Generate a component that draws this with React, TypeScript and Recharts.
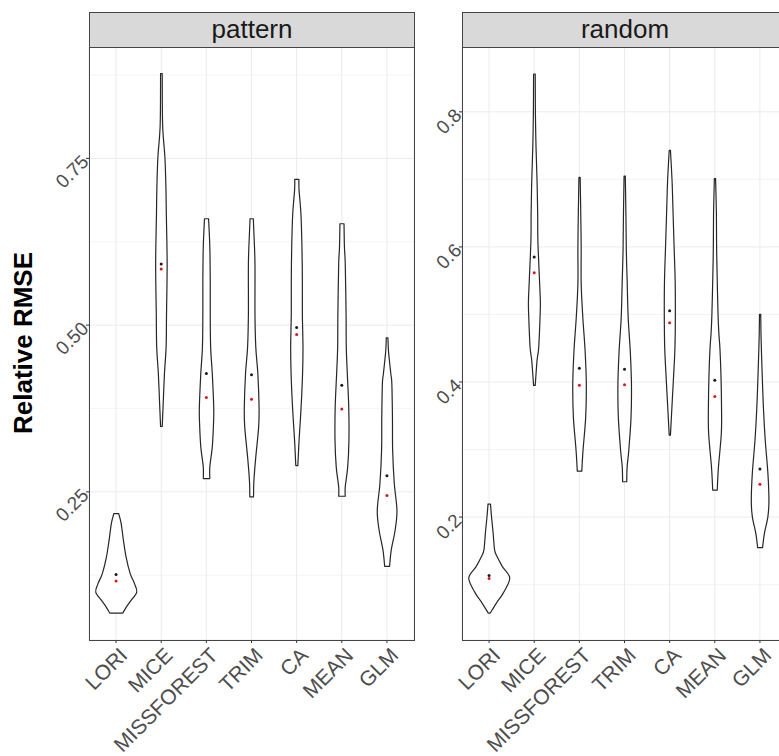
import React from 'react';
import { ComposedChart, Bar, Scatter, XAxis, YAxis, CartesianGrid } from 'recharts';

// ---------- data ----------
const categories = ['LORI', 'MICE', 'MISSFOREST', 'TRIM', 'CA', 'MEAN', 'GLM'];

// violin outlines: [value, relative density width] from top (max) to bottom (min)
const patternProfiles: number[][][] = [
  [[0.2174, 0.12], [0.2024, 0.24], [0.1774, 0.35], [0.1523, 0.48], [0.1274, 0.68], [0.1124, 0.89], [0.0998, 1.0], [0.0873, 0.72], [0.0773, 0.49], [0.0683, 0.32]],
  [[0.877, 0.04], [0.8, 0.06], [0.752, 0.17], [0.707, 0.22], [0.667, 0.24], [0.592, 0.28], [0.517, 0.25], [0.467, 0.23], [0.428, 0.15], [0.377, 0.08], [0.348, 0.04]],
  [[0.6595, 0.1], [0.617, 0.16], [0.567, 0.18], [0.517, 0.18], [0.467, 0.2], [0.4275, 0.28], [0.3774, 0.35], [0.3525, 0.34], [0.3174, 0.28], [0.2874, 0.16], [0.27, 0.16]],
  [[0.6595, 0.08], [0.637, 0.11], [0.592, 0.16], [0.517, 0.16], [0.467, 0.2], [0.4275, 0.3], [0.3774, 0.36], [0.3474, 0.34], [0.3024, 0.2], [0.2674, 0.11], [0.2424, 0.09]],
  [[0.7186, 0.1], [0.702, 0.11], [0.667, 0.2], [0.617, 0.25], [0.567, 0.27], [0.517, 0.27], [0.467, 0.3], [0.4275, 0.28], [0.3774, 0.21], [0.3274, 0.11], [0.2894, 0.05]],
  [[0.652, 0.1], [0.617, 0.12], [0.592, 0.16], [0.517, 0.2], [0.467, 0.21], [0.4275, 0.26], [0.3774, 0.33], [0.3274, 0.34], [0.2874, 0.28], [0.2574, 0.16], [0.2434, 0.16]],
  [[0.481, 0.04], [0.46, 0.07], [0.4275, 0.18], [0.4125, 0.23], [0.3625, 0.26], [0.3124, 0.27], [0.2625, 0.35], [0.2224, 0.48], [0.1924, 0.39], [0.1624, 0.2], [0.1384, 0.12]],
];
const patternMeans = [0.126, 0.5915, 0.4275, 0.4255, 0.4965, 0.41, 0.274];
const patternMedians = [0.1163, 0.584, 0.3915, 0.389, 0.486, 0.3744, 0.2444];

const randomProfiles: number[][][] = [
  [[0.2193, 0.06], [0.2005, 0.11], [0.176, 0.19], [0.1513, 0.26], [0.1415, 0.38], [0.1267, 0.64], [0.1096, 1.0], [0.0874, 0.68], [0.0727, 0.35], [0.0579, 0.05]],
  [[0.856, 0.04], [0.796, 0.05], [0.747, 0.08], [0.697, 0.13], [0.648, 0.16], [0.609, 0.17], [0.55, 0.25], [0.52, 0.29], [0.5, 0.28], [0.451, 0.21], [0.432, 0.13], [0.395, 0.04]],
  [[0.703, 0.03], [0.648, 0.06], [0.599, 0.08], [0.546, 0.08], [0.4955, 0.16], [0.447, 0.27], [0.398, 0.33], [0.348, 0.3], [0.299, 0.17], [0.268, 0.11]],
  [[0.705, 0.03], [0.648, 0.06], [0.594, 0.08], [0.55, 0.12], [0.4955, 0.17], [0.447, 0.27], [0.398, 0.33], [0.348, 0.31], [0.299, 0.2], [0.2744, 0.12], [0.2523, 0.1]],
  [[0.743, 0.03], [0.697, 0.11], [0.648, 0.16], [0.599, 0.21], [0.55, 0.26], [0.5, 0.27], [0.451, 0.25], [0.4124, 0.19], [0.373, 0.12], [0.3213, 0.03]],
  [[0.701, 0.03], [0.648, 0.07], [0.599, 0.08], [0.55, 0.11], [0.5, 0.15], [0.472, 0.19], [0.451, 0.24], [0.4124, 0.29], [0.363, 0.32], [0.324, 0.31], [0.274, 0.17], [0.24, 0.11]],
  [[0.5, 0.03], [0.4616, 0.05], [0.4124, 0.1], [0.363, 0.16], [0.314, 0.25], [0.2647, 0.38], [0.2253, 0.43], [0.2006, 0.38], [0.176, 0.21], [0.1548, 0.12]],
];
const randomMeans = [0.1135, 0.585, 0.4202, 0.4188, 0.5055, 0.4025, 0.271];
const randomMedians = [0.109, 0.5616, 0.3951, 0.396, 0.4877, 0.3784, 0.2485];

const patternTicks = [0.25, 0.5, 0.75];
const patternTickLabels = ['0.25', '0.50', '0.75'];
const patternMinor = [0.125, 0.375, 0.625, 0.875];
const patternDomain = [0.0279, 0.917];

const randomTicks = [0.2, 0.4, 0.6, 0.8];
const randomTickLabels = ['0.2', '0.4', '0.6', '0.8'];
const randomMinor = [0.1, 0.3, 0.5, 0.7];
const randomDomain = [0.018, 0.896];

const facetLabels = ['pattern', 'random'];
const yTitle = 'Relative RMSE';

// ---------- helpers ----------
const FONT = '"Liberation Sans", Arial, Helvetica, sans-serif';

function buildRows(profiles: number[][][], means: number[], medians: number[]) {
  return categories.map((name, i) => {
    const prof = profiles[i];
    return {
      name,
      range: [prof[prof.length - 1][0], prof[0][0]],
      profile: prof,
      mean: means[i],
      median: medians[i],
    };
  });
}

function smoothSegs(pts: number[][]) {
  let d = '';
  for (let i = 0; i < pts.length - 1; i++) {
    const p0 = pts[i - 1] || pts[i];
    const p1 = pts[i];
    const p2 = pts[i + 1];
    const p3 = pts[i + 2] || p2;
    const c1x = p1[0] + (p2[0] - p0[0]) / 6;
    const c1y = p1[1] + (p2[1] - p0[1]) / 6;
    const c2x = p2[0] - (p3[0] - p1[0]) / 6;
    const c2y = p2[1] - (p3[1] - p1[1]) / 6;
    d += ` C${c1x.toFixed(2)},${c1y.toFixed(2)} ${c2x.toFixed(2)},${c2y.toFixed(2)} ${p2[0].toFixed(2)},${p2[1].toFixed(2)}`;
  }
  return d;
}

const ViolinShape = (props: any) => {
  const { x, y, width, height, payload } = props;
  if (!payload || !payload.profile) return null;
  const prof: number[][] = payload.profile;
  const top = Math.min(y, y + height);
  const h = Math.abs(height);
  const vmax = prof[0][0];
  const vmin = prof[prof.length - 1][0];
  const cx = x + width / 2;
  const half = width / 2;
  const py = (v: number) => top + ((vmax - v) / (vmax - vmin)) * h;
  const right = prof.map(([v, w]) => [cx + w * half, py(v)]);
  const left = prof.map(([v, w]) => [cx - w * half, py(v)]).reverse();
  const d =
    `M${left[left.length - 1][0]},${left[left.length - 1][1]} L${right[0][0]},${right[0][1]}` +
    smoothSegs(right) +
    ` L${left[0][0]},${left[0][1]}` +
    smoothSegs(left) +
    ' Z';
  return <path d={d} fill="#FFFFFF" stroke="#262626" strokeWidth={1.2} strokeLinejoin="round" />;
};

const dot = (color: string) => (props: any) => {
  const { cx, cy } = props;
  if (cx == null || cy == null) return null;
  return <circle cx={cx} cy={cy} r={1.5} fill={color} />;
};

const makeYTick = (ticks: number[], labels: string[]) => (props: any) => {
  const { x, y, payload } = props;
  const idx = ticks.indexOf(payload.value);
  const label = idx >= 0 ? labels[idx] : String(payload.value);
  return (
    <text
      x={x}
      y={y}
      transform={`rotate(-45 ${x} ${y})`}
      textAnchor="end"
      dy="0.35em"
      fill="#4D4D4D"
      fontSize={19}
      fontFamily={FONT}
    >
      {label}
    </text>
  );
};

const XTick = (props: any) => {
  const { x, y, payload } = props;
  const tx = x + 2;
  return (
    <text
      x={tx}
      y={y}
      transform={`rotate(-45 ${tx} ${y})`}
      textAnchor="end"
      dy="0.72em"
      fill="#4D4D4D"
      fontSize={21}
      fontFamily={FONT}
    >
      {payload.value}
    </text>
  );
};

function Panel(props: {
  rows: any[];
  ticks: number[];
  tickLabels: string[];
  minor: number[];
  domain: number[];
  width: number;
  yAxisWidth: number;
}) {
  const { rows, ticks, tickLabels, minor, domain, width, yAxisWidth } = props;
  return (
    <ComposedChart
      width={width}
      height={756}
      data={rows}
      margin={{ top: 47, right: 6, bottom: 0, left: 0 }}
      barCategoryGap="5%"
    >
      <CartesianGrid horizontalValues={minor} vertical={false} stroke="#EFEFEF" strokeWidth={0.7} fill="none" />
      <CartesianGrid stroke="#EBEBEB" strokeWidth={1} fill="none" />
      <XAxis
        dataKey="name"
        type="category"
        padding={{ left: 4.5, right: 4.5 }}
        axisLine={false}
        tickLine={{ stroke: '#333333' }}
        tickSize={3}
        tickMargin={3}
        height={116}
        interval={0}
        tick={<XTick />}
      />
      <YAxis
        type="number"
        domain={domain}
        allowDataOverflow
        ticks={ticks}
        width={yAxisWidth}
        axisLine={false}
        tickLine={{ stroke: '#333333' }}
        tickSize={3}
        tickMargin={1}
        tick={makeYTick(ticks, tickLabels)}
      />
      <Bar dataKey="range" isAnimationActive={false} shape={(p: any) => <ViolinShape {...p} />} />
      <Scatter dataKey="mean" isAnimationActive={false} shape={dot('#1A1A1A')} />
      <Scatter dataKey="median" isAnimationActive={false} shape={dot('#D7191C')} />
    </ComposedChart>
  );
}

export default function App() {
  const patternRows = buildRows(patternProfiles, patternMeans, patternMedians);
  const randomRows = buildRows(randomProfiles, randomMeans, randomMedians);

  const stripStyle = (left: number): React.CSSProperties => ({
    position: 'absolute',
    left,
    top: 12,
    width: 326,
    height: 36,
    boxSizing: 'border-box',
    border: '1px solid #444444',
    background: '#D9D9D9',
    color: '#1A1A1A',
    fontSize: 26,
    fontFamily: FONT,
    lineHeight: '33px',
    textAlign: 'center',
    pointerEvents: 'none',
  });
  const borderStyle = (left: number): React.CSSProperties => ({
    position: 'absolute',
    left,
    top: 47,
    width: 326,
    height: 594,
    boxSizing: 'border-box',
    border: '1px solid #444444',
    pointerEvents: 'none',
  });

  return (
    <div
      style={{
        position: 'absolute',
        left: 0,
        top: 0,
        width: 779,
        height: 756,
        overflow: 'hidden',
        background: '#FFFFFF',
        fontFamily: FONT,
      }}
    >
      <div style={{ position: 'absolute', left: 0, top: 0 }}>
        <Panel rows={patternRows} ticks={patternTicks} tickLabels={patternTickLabels} minor={patternMinor} domain={patternDomain} width={420} yAxisWidth={89} />
      </div>
      <div style={{ position: 'absolute', left: 420, top: 0 }}>
        <Panel rows={randomRows} ticks={randomTicks} tickLabels={randomTickLabels} minor={randomMinor} domain={randomDomain} width={373} yAxisWidth={42} />
      </div>
      <div style={borderStyle(89)} />
      <div style={borderStyle(462)} />
      <div style={stripStyle(89)}>{facetLabels[0]}</div>
      <div style={stripStyle(462)}>{facetLabels[1]}</div>
      <svg width={779} height={756} style={{ position: 'absolute', left: 0, top: 0, pointerEvents: 'none' }}>
        <text
          x={23}
          y={343}
          transform="rotate(-90 23 343)"
          textAnchor="middle"
          dominantBaseline="central"
          fontSize={26}
          fontWeight="bold"
          fill="#000000"
          fontFamily={FONT}
        >
          {yTitle}
        </text>
      </svg>
    </div>
  );
}
